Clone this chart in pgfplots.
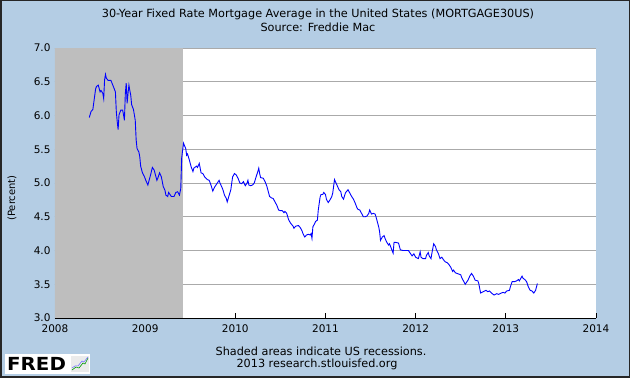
\documentclass[border=0pt]{standalone}
\usepackage{pgfplots}
\pgfplotsset{compat=1.18}
\usepackage{fontspec}
\setmainfont{DejaVu Sans}
\definecolor{bgblue}{RGB}{180,205,228}
\definecolor{shade}{RGB}{190,190,190}
\definecolor{gridc}{RGB}{170,170,170}
\begin{document}
\begin{tikzpicture}[x=1pt,y=1pt]
\useasboundingbox (0,0) rectangle (630,378);
\fill[bgblue] (0,0) rectangle (630,378);
\draw[line width=1.5pt,black!85] (0.75,0.75) rectangle (629.25,377.25);
\begin{axis}[
  at={(55pt,60pt)}, anchor=south west,
  scale only axis, width=541pt, height=270pt,
  xmin=2008, xmax=2014, ymin=3, ymax=7,
  axis x line*=bottom, axis y line*=left,
  axis line style={black, line width=0.8pt},
  xtick={2008,2009,...,2014}, ytick={3,3.5,...,7},
  tick align=inside, major tick length=5pt,
  tick style={black, line width=0.8pt},
  minor tick num=0,
  ymajorgrids, grid style={gridc, line width=0.8pt},
  axis background/.style={fill=white},
  /pgf/number format/assume math mode=true,
  xticklabel style={font=\fontsize{10.5}{12}\selectfont, /pgf/number format/1000 sep={}, yshift=-3pt},
  yticklabel style={font=\fontsize{10.5}{12}\selectfont, /pgf/number format/fixed, /pgf/number format/fixed zerofill, /pgf/number format/precision=1, xshift=-1pt},
  every tick label/.append style={text=black},
  clip=true,
]
\addplot[fill=shade, draw=none] coordinates {(2007.92,7) (2009.42,7)} \closedcycle;
\addplot[blue, line width=0.9pt, mark=none] coordinates {
(2008.38,5.97) (2008.40,6.06) (2008.42,6.09) (2008.43,6.19) (2008.45,6.39) (2008.46,6.43)
(2008.48,6.45) (2008.50,6.35) (2008.51,6.37) (2008.53,6.33) (2008.54,6.25) (2008.55,6.53)
(2008.56,6.61) (2008.57,6.55) (2008.59,6.52) (2008.62,6.52) (2008.65,6.42) (2008.67,6.35)
(2008.68,6.06) (2008.69,5.91) (2008.70,5.79) (2008.71,6.01) (2008.73,6.08) (2008.75,6.08)
(2008.76,6.01) (2008.77,5.93) (2008.78,6.33) (2008.79,6.48) (2008.80,6.18) (2008.81,6.33)
(2008.82,6.45) (2008.83,6.37) (2008.84,6.30) (2008.85,6.16) (2008.87,6.09) (2008.89,5.93)
(2008.90,5.64) (2008.91,5.51) (2008.93,5.46) (2008.94,5.39) (2008.95,5.25) (2008.97,5.15)
(2008.99,5.10) (2009.01,5.03) (2009.03,4.97) (2009.05,5.07) (2009.06,5.12) (2009.08,5.23)
(2009.10,5.19) (2009.11,5.14) (2009.13,5.04) (2009.14,5.07) (2009.16,5.15) (2009.18,5.09)
(2009.19,5.02) (2009.20,4.95) (2009.22,4.89) (2009.23,4.82) (2009.25,4.80) (2009.26,4.86)
(2009.28,4.82) (2009.29,4.80) (2009.32,4.80) (2009.34,4.86) (2009.36,4.87) (2009.38,4.82)
(2009.395,4.92) (2009.405,5.37) (2009.425,5.59) (2009.45,5.51) (2009.46,5.41) (2009.47,5.43)
(2009.49,5.34) (2009.51,5.24) (2009.53,5.17) (2009.54,5.22) (2009.57,5.25) (2009.58,5.23)
(2009.60,5.29) (2009.62,5.15) (2009.64,5.14) (2009.66,5.09) (2009.69,5.05) (2009.71,5.04)
(2009.73,4.97) (2009.75,4.88) (2009.77,4.94) (2009.80,5.00) (2009.82,5.04) (2009.83,5.00)
(2009.86,4.91) (2009.88,4.82) (2009.90,4.77) (2009.91,4.72) (2009.93,4.81) (2009.95,4.90)
(2009.96,5.00) (2009.97,5.09) (2009.99,5.14) (2010.01,5.12) (2010.03,5.07) (2010.05,5.00)
(2010.07,4.99) (2010.09,5.02) (2010.11,4.96) (2010.13,5.00) (2010.14,5.04) (2010.15,4.97)
(2010.17,4.96) (2010.19,4.97) (2010.21,5.00) (2010.23,5.09) (2010.25,5.17) (2010.26,5.22)
(2010.27,5.14) (2010.28,5.08) (2010.31,5.07) (2010.33,5.02) (2010.35,4.95) (2010.37,4.85)
(2010.38,4.80) (2010.40,4.78) (2010.42,4.77) (2010.44,4.72) (2010.46,4.67) (2010.48,4.60)
(2010.50,4.59) (2010.52,4.59) (2010.54,4.56) (2010.55,4.58) (2010.57,4.55) (2010.59,4.46)
(2010.61,4.41) (2010.64,4.36) (2010.65,4.33) (2010.67,4.36) (2010.70,4.37) (2010.72,4.34)
(2010.74,4.29) (2010.75,4.25) (2010.77,4.20) (2010.79,4.23) (2010.81,4.24) (2010.83,4.23)
(2010.84,4.25) (2010.85,4.18) (2010.86,4.35) (2010.88,4.40) (2010.89,4.43) (2010.91,4.45)
(2010.92,4.60) (2010.94,4.79) (2010.95,4.83) (2010.97,4.83) (2010.98,4.86) (2011.00,4.83)
(2011.01,4.76) (2011.03,4.71) (2011.05,4.75) (2011.07,4.80) (2011.08,4.85) (2011.09,4.95)
(2011.10,5.05) (2011.11,5.02) (2011.13,4.96) (2011.15,4.90) (2011.17,4.87) (2011.18,4.80)
(2011.20,4.76) (2011.22,4.85) (2011.23,4.87) (2011.25,4.90) (2011.27,4.85) (2011.29,4.80)
(2011.31,4.76) (2011.33,4.70) (2011.35,4.63) (2011.36,4.61) (2011.38,4.60) (2011.40,4.55)
(2011.42,4.50) (2011.44,4.50) (2011.46,4.51) (2011.48,4.55) (2011.49,4.60) (2011.51,4.54)
(2011.53,4.55) (2011.55,4.54) (2011.56,4.50) (2011.58,4.40) (2011.59,4.35) (2011.60,4.28)
(2011.61,4.15) (2011.63,4.20) (2011.65,4.22) (2011.66,4.18) (2011.68,4.12) (2011.70,4.08)
(2011.71,4.10) (2011.73,4.03) (2011.75,3.96) (2011.76,4.12) (2011.78,4.12) (2011.81,4.11)
(2011.83,4.01) (2011.86,4.00) (2011.88,4.00) (2011.92,4.00) (2011.94,3.96) (2011.96,3.92)
(2011.98,3.95) (2012.00,3.90) (2012.03,3.88) (2012.05,3.98) (2012.06,3.90) (2012.08,3.88)
(2012.11,3.88) (2012.12,3.93) (2012.14,3.97) (2012.15,3.92) (2012.17,3.88) (2012.18,3.96)
(2012.20,4.10) (2012.22,4.06) (2012.23,4.01) (2012.25,3.96) (2012.27,3.88) (2012.29,3.90)
(2012.31,3.86) (2012.33,3.83) (2012.35,3.82) (2012.37,3.79) (2012.39,3.75) (2012.41,3.69)
(2012.42,3.71) (2012.44,3.67) (2012.46,3.66) (2012.48,3.65) (2012.50,3.64) (2012.51,3.60)
(2012.53,3.55) (2012.55,3.50) (2012.58,3.56) (2012.60,3.62) (2012.62,3.66) (2012.64,3.62)
(2012.66,3.56) (2012.69,3.55) (2012.70,3.51) (2012.71,3.44) (2012.72,3.37) (2012.75,3.39)
(2012.78,3.41) (2012.80,3.39) (2012.82,3.40) (2012.84,3.37) (2012.87,3.34) (2012.90,3.36)
(2012.92,3.35) (2012.95,3.37) (2012.97,3.38) (2012.99,3.37) (2013.01,3.40) (2013.04,3.41)
(2013.05,3.46) (2013.07,3.54) (2013.10,3.54) (2013.12,3.55) (2013.14,3.57) (2013.15,3.55)
(2013.18,3.62) (2013.19,3.59) (2013.21,3.57) (2013.23,3.54) (2013.25,3.46) (2013.27,3.41)
(2013.29,3.40) (2013.31,3.37) (2013.33,3.41) (2013.34,3.46) (2013.35,3.51)
};
\end{axis}
\node[rotate=90, font=\fontsize{10}{12}\selectfont] at (12,180) {(Percent)};
\node[font=\fontsize{11.25}{13}\selectfont] at (318,364) {30-Year Fixed Rate Mortgage Average in the United States (MORTGAGE30US)};
\node[font=\fontsize{11.25}{13}\selectfont] at (318,351) {Source: Freddie Mac};
\node[font=\fontsize{11.25}{13}\selectfont] at (321,26.3) {Shaded areas indicate US recessions.};
\node[font=\fontsize{11.25}{13}\selectfont] at (317,13.7) {2013 research.stlouisfed.org};
% FRED logo
\fill[white] (5,4) rectangle (90,24);
\node[anchor=west, font=\fontsize{18}{18}\bfseries, xscale=1.1, inner sep=0pt] at (7,14) {FRED};
\fill[black!8] (71,6) rectangle (89,22);
\draw[green!60!black, line width=0.6pt] (72,8) -- (76,11) -- (79,10) -- (83,15) -- (85,14) -- (88,20);
\draw[blue!60, line width=0.5pt] (72,10) -- (75,12) -- (78,12) -- (82,17) -- (84,16) -- (88,21);
\end{tikzpicture}
\end{document}
